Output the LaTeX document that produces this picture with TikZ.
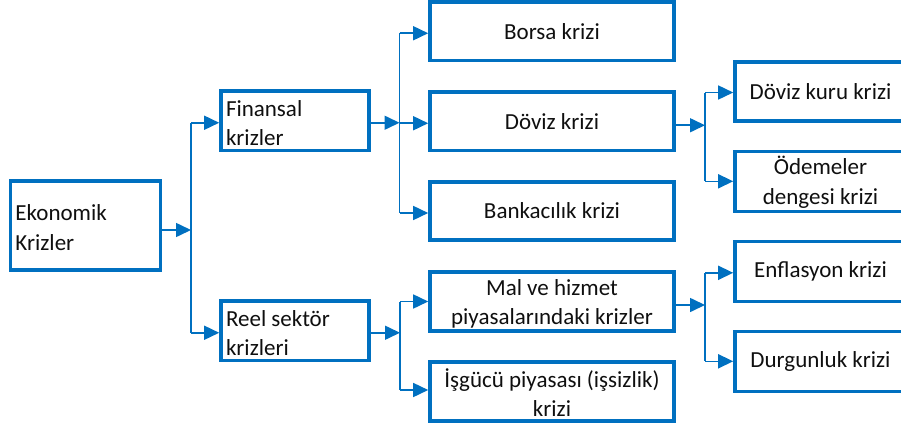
\documentclass[tikz,border=0pt]{standalone}
\usepackage{fontspec}
\setmainfont{Carlito}
\usetikzlibrary{arrows.meta,calc}
\definecolor{wblue}{RGB}{0,112,192}
\definecolor{txt}{RGB}{15,15,15}
\newcommand{\lowstrut}{\rule{0pt}{20.5pt}}
\begin{document}
\begin{tikzpicture}[x=1pt,y=-1pt,
  box/.style={draw=wblue, line width=3.6pt, rectangle, inner sep=0pt, align=center,
    font=\fontsize{23}{29.5}\selectfont, text=txt},
  lbox/.style={box, align=flush left, inner xsep=5pt},
  conn/.style={draw=wblue, line width=1.6pt},
  arr/.style={conn, -{Triangle[length=15pt,width=14pt]}}]
\useasboundingbox (0,0) rectangle (901,428);
\clip (0,0) rectangle (901,428);

% level 0
\node[lbox, minimum width=150pt, minimum height=89pt, text width=140pt] (ek) at (85.5,225.5) {\lowstrut Ekonomik\\Krizler};
% level 1
\node[lbox, minimum width=148pt, minimum height=59.5pt, text width=138pt] (fin) at (295,120.75) {\lowstrut Finansal\\krizler};
\node[lbox, minimum width=148pt, minimum height=59.5pt, text width=138pt] (reel) at (295,330.75) {\lowstrut Reel sektör\\krizleri};
% level 2
\node[box, minimum width=244pt, minimum height=58.5pt] (borsa) at (552,31.25) {Borsa krizi};
\node[box, minimum width=244pt, minimum height=58.5pt] (doviz) at (552,121.25) {Döviz krizi};
\node[box, minimum width=244pt, minimum height=58pt] (bank) at (552,211) {Bankacılık krizi};
\node[box, minimum width=244pt, minimum height=59pt] (mal) at (552,301.5) {\lowstrut Mal ve hizmet\\piyasalarındaki krizler};
\node[box, minimum width=244pt, minimum height=59pt] (isg) at (552,391.5) {\lowstrut İşgücü piyasası (işsizlik)\\krizi};
% level 3
\node[box, minimum width=171pt, minimum height=59pt] (dkuru) at (820.5,91.5) {Döviz kuru krizi};
\node[box, minimum width=171pt, minimum height=60pt] (odeme) at (820.5,181.3) {\lowstrut Ödemeler\\dengesi krizi};
\node[box, minimum width=171pt, minimum height=60pt] (enfl) at (820.5,271.3) {Enflasyon krizi};
\node[box, minimum width=171pt, minimum height=60pt] (durg) at (820.5,361.3) {Durgunluk krizi};

% junction columns
\coordinate (j1) at (191,0);
\coordinate (j2) at (399.5,0);
\coordinate (j3) at (400,0);
\coordinate (j4) at (705,0);

% attachment points
\coordinate (ek-o) at ($(ek.east)+(0,4.5)$);
\coordinate (fin-i) at ($(fin.west)+(0,2)$);
\coordinate (reel-i) at ($(reel.west)+(0,2)$);
\coordinate (fin-o) at ($(fin.east)+(0,2)$);
\coordinate (reel-o) at ($(reel.east)+(0,2)$);
\coordinate (borsa-i) at ($(borsa.west)+(0,2)$);
\coordinate (doviz-i) at ($(doviz.west)+(0,2)$);
\coordinate (bank-i) at ($(bank.west)+(0,2)$);
\coordinate (mal-i) at (mal.west);
\coordinate (isg-i) at ($(isg.west)+(0,-1.5)$);
\coordinate (doviz-o) at ($(doviz.east)+(0,4)$);
\coordinate (mal-o) at ($(mal.east)+(0,3.5)$);
\coordinate (dkuru-i) at ($(dkuru.west)+(0,1)$);
\coordinate (odeme-i) at (odeme.west);
\coordinate (enfl-i) at ($(enfl.west)+(0,1.5)$);
\coordinate (durg-i) at (durg.west);

% Ekonomik -> level 1
\draw[arr] (ek-o) -- (ek-o -| j1);
\draw[conn] (fin-i -| j1) -- (reel-i -| j1);
\draw[arr] (fin-i -| j1) -- (fin-i);
\draw[arr] (reel-i -| j1) -- (reel-i);

% Finansal -> level 2
\draw[arr] (fin-o) -- (fin-o -| j2);
\draw[conn] (borsa-i -| j2) -- (bank-i -| j2);
\draw[arr] (borsa-i -| j2) -- (borsa-i);
\draw[arr] (doviz-i -| j2) -- (doviz-i);
\draw[arr] (bank-i -| j2) -- (bank-i);

% Reel -> level 2
\draw[arr] (reel-o) -- (reel-o -| j3);
\draw[conn] (mal-i -| j3) -- (isg-i -| j3);
\draw[arr] (mal-i -| j3) -- (mal-i);
\draw[arr] (isg-i -| j3) -- (isg-i);

% Doviz -> level 3
\draw[arr] (doviz-o) -- (doviz-o -| j4);
\draw[conn] (dkuru-i -| j4) -- (odeme-i -| j4);
\draw[arr] (dkuru-i -| j4) -- (dkuru-i);
\draw[arr] (odeme-i -| j4) -- (odeme-i);

% Mal -> level 3
\draw[arr] (mal-o) -- (mal-o -| j4);
\draw[conn] (enfl-i -| j4) -- (durg-i -| j4);
\draw[arr] (enfl-i -| j4) -- (enfl-i);
\draw[arr] (durg-i -| j4) -- (durg-i);
\end{tikzpicture}
\end{document}
